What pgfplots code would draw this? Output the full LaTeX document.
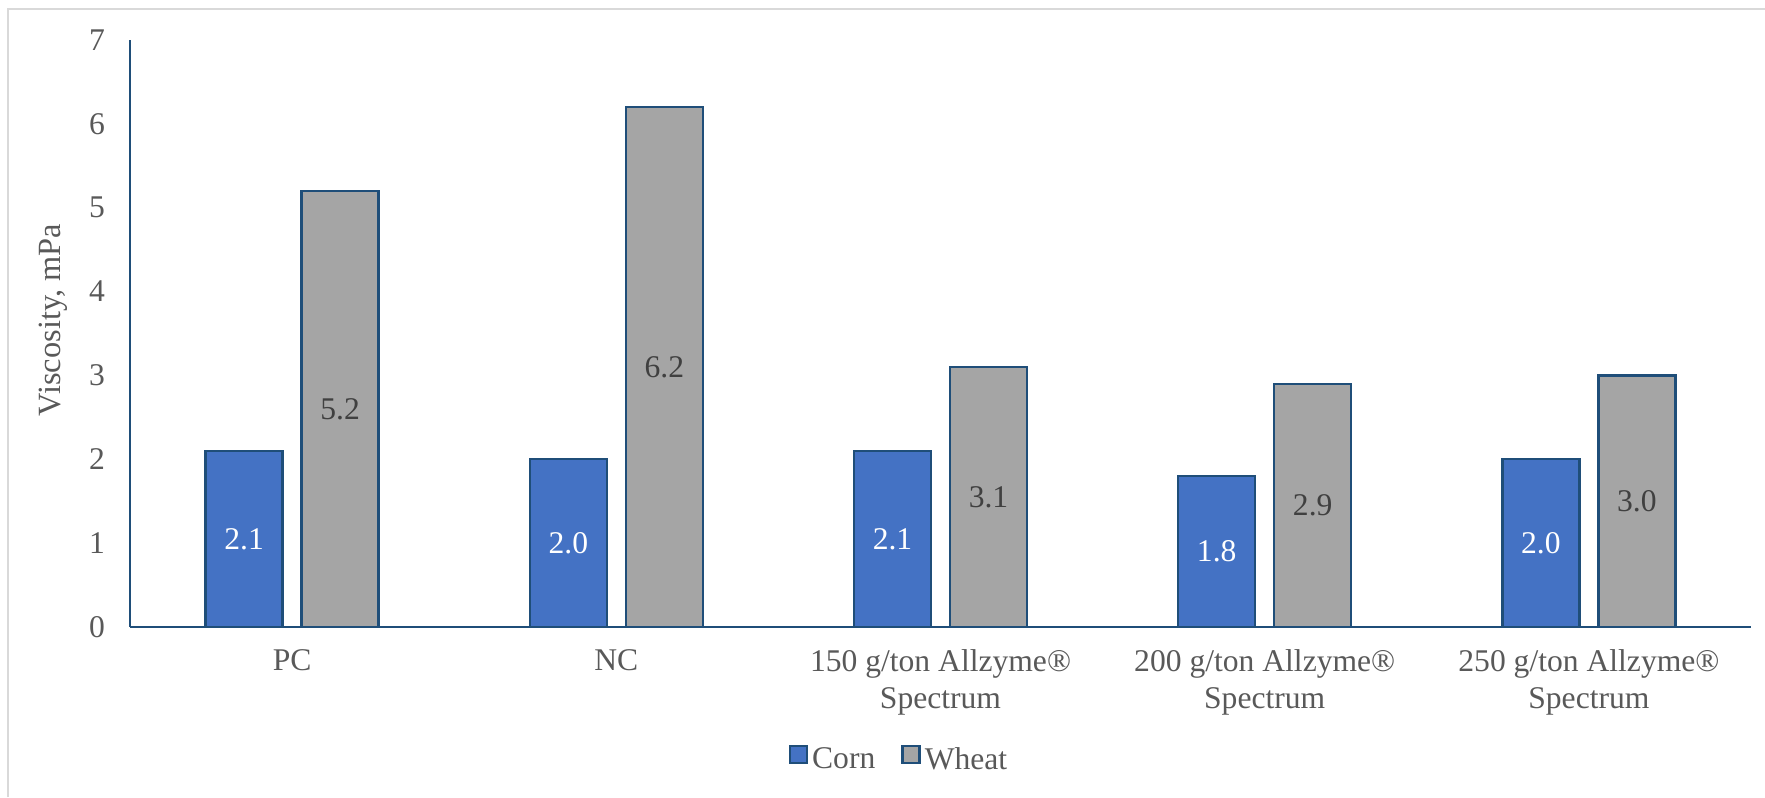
\documentclass[border=0pt]{standalone}
\usepackage{pgfplots}
\pgfplotsset{compat=1.18}
\usepackage{pgfplotstable}
\usepackage{fontspec}
\setmainfont{Liberation Serif}
\definecolor{corn}{HTML}{4472C4}
\definecolor{wheat}{HTML}{A5A5A5}
\definecolor{edge}{HTML}{1F4E79}
\definecolor{txt}{HTML}{595959}
\definecolor{lbl}{HTML}{404040}
\definecolor{frame}{HTML}{D9D9D9}
\pgfplotstableread{
x corn wheat
0 2.1 5.2
1 2.0 6.2
2 2.1 3.1
3 1.8 2.9
4 2.0 3.0
}\data
\pgfplotsset{sqlegend/.style={legend image code/.code={\draw[##1, line width=1.2pt] (0pt,-1.5pt) rectangle (8.5pt,7pt);}}}
\begin{document}
\begin{tikzpicture}
\useasboundingbox (0,0) rectangle (882.5pt,398.5pt);
\draw[frame, line width=1pt] (4pt,0) -- (4pt,394pt) -- (882.5pt,394pt);
\begin{axis}[
  at={(65pt,85pt)}, anchor=south west,
  scale only axis, width=810.5pt, height=293.5pt,
  ybar=9.5pt, bar width=38.5pt,
  xmin=-0.5, xmax=4.5, ymin=0, ymax=7,
  axis lines=left,
  axis line style={-, edge, line width=1.4pt},
  major tick length=0pt,
  xtick=data,
  xticklabels={PC, NC, {150 g/ton Allzyme®\\Spectrum}, {200 g/ton Allzyme®\\Spectrum}, {250 g/ton Allzyme®\\Spectrum}},
  xticklabel style={align=center, font=\fontsize{15.8}{18.5}\selectfont, text=txt, yshift=-8pt},
  ytick={0,1,...,7},
  yticklabel style={font=\fontsize{15.8}{18}\selectfont, text=txt, xshift=-9pt},
  /pgf/number format/assume math mode=true,
  ylabel={Viscosity, mPa},
  ylabel style={at={(axis description cs:-0.0475,0.523)}, anchor=center, font=\fontsize{16.2}{18}\selectfont, text=txt},
  clip=false,
  visualization depends on={y \as \rawy},
  nodes near coords={\pgfmathprintnumber[fixed, fixed zerofill, precision=1]{\pgfplotspointmeta}},
  every node near coord/.append style={font=\fontsize{15.8}{18}\selectfont, anchor=center, shift={(axis direction cs:0,-\rawy/2)}},
  legend style={draw=none, fill=none, at={(0.475,-0.2266)}, anchor=center, legend columns=-1,
    font=\fontsize{15.8}{18}\selectfont, text=txt,
    /tikz/every even column/.append style={column sep=11pt}},
]
\addplot[fill=corn, draw=edge, line width=1.2pt, sqlegend, every node near coord/.append style={text=white}] table[x=x, y=corn] {\data};
\addplot[fill=wheat, draw=edge, line width=1.2pt, sqlegend, every node near coord/.append style={text=lbl}] table[x=x, y=wheat] {\data};
\legend{Corn, Wheat}
\end{axis}
\end{tikzpicture}
\end{document}
